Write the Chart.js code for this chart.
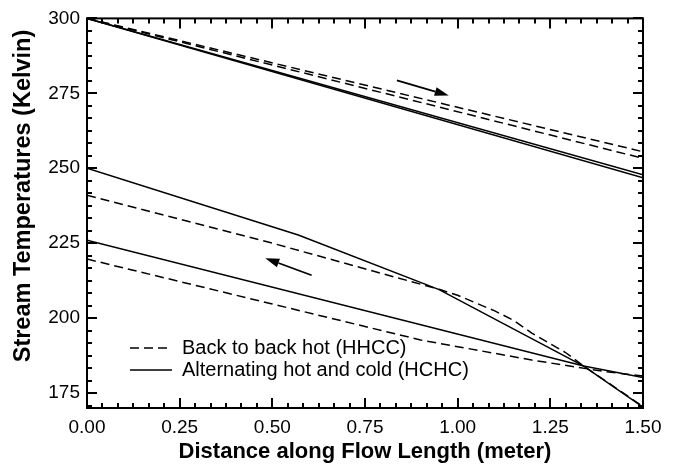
<!DOCTYPE html>
<html>
<head>
<meta charset="utf-8">
<script src="https://cdn.jsdelivr.net/npm/chart.js@4"></script>
<style>
  body { margin: 0; background: #fff; }
</style>
</head>
<body>
<canvas id="chart" width="680" height="467"></canvas>
<script>
// tick labels
const xTicks = [0, 0.25, 0.5, 0.75, 1.0, 1.25, 1.5];
const yTicks = [175, 200, 225, 250, 275, 300];

// hot streams (flow left -> right)
const hhccHot1X = [0, 1.5];
const hhccHot1Y = [300, 255.5];
const hhccHot2X = [0, 1.5];
const hhccHot2Y = [300, 253.3];
const hchcHot1X = [0, 1.5];
const hchcHot1Y = [300, 247.8];
const hchcHot2X = [0, 1.5];
const hchcHot2Y = [300, 246.8];

// cold streams (flow right -> left)
const hchcCold1X = [0, 0.57, 0.95, 1.34, 1.5];
const hchcCold1Y = [250, 227.7, 209.5, 184, 170.3];
const hchcCold2X = [0, 1.34, 1.5];
const hchcCold2Y = [226, 184, 180.2];
const hhccCold1X = [0, 0.5, 0.95, 1.0, 1.1, 1.15, 1.2, 1.29, 1.34, 1.5];
const hhccCold1Y = [241, 225, 209.6, 207.6, 202.4, 199.3, 195, 188.6, 184, 170.5];
const hhccCold2X = [0, 0.5, 0.9, 1.2, 1.4, 1.5];
const hhccCold2Y = [219.7, 204.7, 192.7, 186, 182.1, 180.7];

const legendLabels = ['Back to back hot (HHCC)', 'Alternating hot and cold (HCHC)'];
const yTitle = 'Stream Temperatures (Kelvin)';

// flow direction arrows, in data units: [x0, y0, x1, y1]
const arrows = [[0.836, 279.3, 0.976, 274.3], [0.606, 214.3, 0.481, 220]];

const FONT = '"Liberation Sans", Arial, sans-serif';
const DASH = [9, 5];

function pts(xs, ys) {
    return xs.map((x, i) => ({ x: x, y: ys[i] }));
}
function line(xs, ys, dashed) {
    return {
        data: pts(xs, ys),
        borderColor: '#000',
        borderWidth: 1.5,
        borderDash: dashed ? DASH : [],
        pointRadius: 0,
        fill: false,
        tension: 0
    };
}

// ticks inward on all four sides, box frame, arrows, legend and y title
const decorations = {
    id: 'decorations',
    afterDatasetsDraw(chart) {
        const { ctx, chartArea: a, scales: { x, y } } = chart;
        ctx.save();
        ctx.strokeStyle = '#000';
        ctx.fillStyle = '#000';

        // arrows
        ctx.lineWidth = 1.8;
        arrows.forEach(([x0, y0, x1, y1]) => {
            const px0 = x.getPixelForValue(x0), py0 = y.getPixelForValue(y0);
            const px1 = x.getPixelForValue(x1), py1 = y.getPixelForValue(y1);
            const ang = Math.atan2(py1 - py0, px1 - px0);
            const L = 14, W = 4.5;
            const bx = px1 - L * Math.cos(ang), by = py1 - L * Math.sin(ang);
            ctx.beginPath();
            ctx.moveTo(px0, py0);
            ctx.lineTo(bx, by);
            ctx.stroke();
            ctx.beginPath();
            ctx.moveTo(px1, py1);
            ctx.lineTo(bx - W * Math.sin(ang), by + W * Math.cos(ang));
            ctx.lineTo(bx + W * Math.sin(ang), by - W * Math.cos(ang));
            ctx.closePath();
            ctx.fill();
        });

        // ticks
        ctx.lineWidth = 2;
        const xStep = 0.25 / 6, yStep = 25 / 6;
        for (let i = 0; i <= 36; i++) {
            const v = i * xStep;
            const len = i % 6 === 0 ? 10 : 5;
            const px = Math.round(x.getPixelForValue(v));
            ctx.beginPath();
            ctx.moveTo(px, a.bottom); ctx.lineTo(px, a.bottom - len);
            ctx.moveTo(px, a.top); ctx.lineTo(px, a.top + len);
            ctx.stroke();
        }
        for (let i = -1; i <= 30; i++) {
            const v = 175 + i * yStep;
            if (v < 170 || v > 300.01) continue;
            const len = i % 6 === 0 ? 10 : 5;
            const py = Math.round(y.getPixelForValue(v));
            ctx.beginPath();
            ctx.moveTo(a.left, py); ctx.lineTo(a.left + len, py);
            ctx.moveTo(a.right, py); ctx.lineTo(a.right - len, py);
            ctx.stroke();
        }

        // frame
        ctx.strokeRect(a.left, a.top, a.right - a.left, a.bottom - a.top);

        // legend
        ctx.lineWidth = 1.5;
        ctx.font = '20px ' + FONT;
        ctx.textBaseline = 'middle';
        ctx.textAlign = 'left';
        ctx.setLineDash(DASH);
        ctx.beginPath();
        ctx.moveTo(130, 348); ctx.lineTo(167, 348);
        ctx.stroke();
        ctx.setLineDash([]);
        ctx.beginPath();
        ctx.moveTo(130, 370); ctx.lineTo(172, 370);
        ctx.stroke();
        ctx.fillText(legendLabels[0], 182, 348);
        ctx.fillText(legendLabels[1], 182, 370);

        // y axis title
        ctx.translate(24, 196);
        ctx.rotate(-Math.PI / 2);
        ctx.textAlign = 'center';
        ctx.font = 'bold 23.5px ' + FONT;
        ctx.fillText(yTitle, 0, 0);
        ctx.restore();
    }
};

new Chart(document.getElementById('chart'), {
    type: 'line',
    data: {
        datasets: [
            line(hhccHot1X, hhccHot1Y, true),
            line(hhccHot2X, hhccHot2Y, true),
            line(hchcHot1X, hchcHot1Y, false),
            line(hchcHot2X, hchcHot2Y, false),
            line(hchcCold1X, hchcCold1Y, false),
            line(hchcCold2X, hchcCold2Y, false),
            line(hhccCold1X, hhccCold1Y, true),
            line(hhccCold2X, hhccCold2Y, true)
        ]
    },
    options: {
        responsive: false,
        animation: false,
        layout: { padding: { left: 0, right: 37, top: 18, bottom: 0 } },
        plugins: {
            legend: { display: false },
            tooltip: { enabled: false }
        },
        scales: {
            x: {
                type: 'linear',
                min: 0,
                max: 1.5,
                afterBuildTicks: s => { s.ticks = xTicks.map(v => ({ value: v })); },
                afterFit: s => { s.height = 59; },
                grid: { display: false, drawTicks: false },
                border: { display: false },
                ticks: {
                    padding: 8,
                    color: '#000',
                    font: { family: FONT, size: 19 },
                    maxRotation: 0,
                    callback: v => v.toFixed(2)
                },
                title: {
                    display: true,
                    text: 'Distance along Flow Length (meter)',
                    color: '#000',
                    font: { family: FONT, size: 22, weight: 'bold' },
                    padding: { top: 0, bottom: 2 }
                }
            },
            y: {
                type: 'linear',
                min: 170,
                max: 300,
                afterBuildTicks: s => { s.ticks = yTicks.map(v => ({ value: v })); },
                afterFit: s => { s.width = 87; },
                grid: { display: false, drawTicks: false },
                border: { display: false },
                ticks: {
                    padding: 7,
                    color: '#000',
                    font: { family: FONT, size: 19 },
                    callback: v => String(v)
                }
            }
        }
    },
    plugins: [decorations]
});
</script>
</body>
</html>
